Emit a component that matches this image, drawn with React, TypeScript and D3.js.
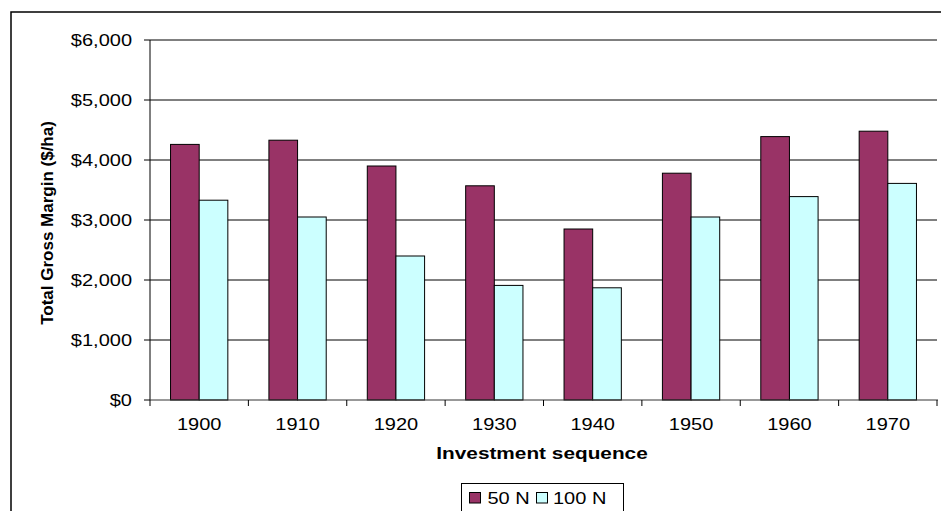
import React from "react";
import * as d3 from "d3";

const categories = ["1900", "1910", "1920", "1930", "1940", "1950", "1960", "1970"];
const seriesNames = ["50 N", "100 N"];
const n50 = [4260, 4330, 3900, 3570, 2850, 3780, 4390, 4480];
const n100 = [3330, 3050, 2400, 1910, 1870, 3050, 3390, 3610];
const yTicks = [0, 1000, 2000, 3000, 4000, 5000, 6000];
const colors = ["#993366", "#CCFFFF"];

const W = 941;
const H = 511;
const left = 150;
const right = 937;
const top = 40;
const bottom = 400;
const FONT = "Arial, 'Liberation Sans', Helvetica, sans-serif";
const SX = 1.25;

function T({
  x,
  y,
  anchor = "start",
  size = 16,
  weight = "normal",
  sx = SX,
  ls = 0,
  children,
}: {
  x: number;
  y: number;
  anchor?: "start" | "middle" | "end";
  size?: number;
  weight?: string;
  sx?: number;
  ls?: number;
  children: React.ReactNode;
}) {
  return (
    <text
      transform={`translate(${x},${y}) scale(${sx},1)`}
      textAnchor={anchor}
      fontSize={size}
      fontWeight={weight}
      letterSpacing={ls}
      fill="#000"
    >
      {children}
    </text>
  );
}

export default function App() {
  const x = d3.scaleBand<string>().domain(categories).range([left, right]).padding(0);
  const xi = d3
    .scaleBand<string>()
    .domain(seriesNames)
    .range([0, x.step()])
    .paddingInner(0)
    .paddingOuter(0.717);
  const y = d3.scaleLinear().domain([0, 6000]).range([bottom, top]);
  const fmt = (v: number) => "$" + d3.format(",")(v);
  const series = [n50, n100];
  const tickXs = d3.range(categories.length + 1).map((i) => left + i * x.step());

  return (
    <svg
      width={W}
      height={H}
      style={{ position: "absolute", left: 0, top: 0, background: "#fff" }}
      fontFamily={FONT}
    >
      <rect x={0} y={0} width={W} height={H} fill="#fff" />
      <path d={`M11,${H + 5} L11,12 L${W + 5},12`} fill="none" stroke="#000" strokeWidth={1.5} />

      {yTicks.map((t) => (
        <g key={t}>
          {t > 0 && <line x1={left} x2={right} y1={y(t)} y2={y(t)} stroke="#000" strokeWidth={1} />}
          <line x1={left - 6} x2={left} y1={y(t)} y2={y(t)} stroke="#000" strokeWidth={1} />
          <T x={132} y={y(t) + 6} anchor="end">
            {fmt(t)}
          </T>
        </g>
      ))}

      {categories.map((c, i) => (
        <g key={c} transform={`translate(${x(c)},0)`}>
          {seriesNames.map((s, j) => (
            <rect
              key={s}
              x={xi(s)}
              y={y(series[j][i])}
              width={xi.bandwidth()}
              height={y(0) - y(series[j][i])}
              fill={colors[j]}
              stroke="#000"
              strokeWidth={1}
            />
          ))}
        </g>
      ))}

      <line x1={left} x2={left} y1={top} y2={bottom} stroke="#000" strokeWidth={1} />
      <line x1={left} x2={right + 1} y1={bottom} y2={bottom} stroke="#333" strokeWidth={1} />
      {tickXs.map((tx, i) => (
        <line key={i} x1={tx} x2={tx} y1={bottom} y2={bottom + 6} stroke="#000" strokeWidth={1} />
      ))}
      {categories.map((c) => (
        <T key={c} x={(x(c) as number) + x.bandwidth() / 2} y={430} anchor="middle">
          {c}
        </T>
      ))}

      <T x={542} y={459} anchor="middle" weight="bold" sx={1.3}>
        Investment sequence
      </T>
      <text
        transform="translate(53,223) rotate(-90)"
        textAnchor="middle"
        fontSize={17}
        fontWeight="bold"
        fill="#000"
      >
        Total Gross Margin ($/ha)
      </text>

      <rect x={461.5} y={483.5} width={162} height={40} fill="#fff" stroke="#000" strokeWidth={1} />
      <rect x={469.5} y={492.5} width={11} height={10.5} fill={colors[0]} stroke="#000" strokeWidth={1} />
      <T x={487.5} y={504}>
        {seriesNames[0]}
      </T>
      <rect x={536.5} y={492.5} width={11} height={10.5} fill={colors[1]} stroke="#000" strokeWidth={1} />
      <T x={553} y={504}>
        {seriesNames[1]}
      </T>
    </svg>
  );
}
